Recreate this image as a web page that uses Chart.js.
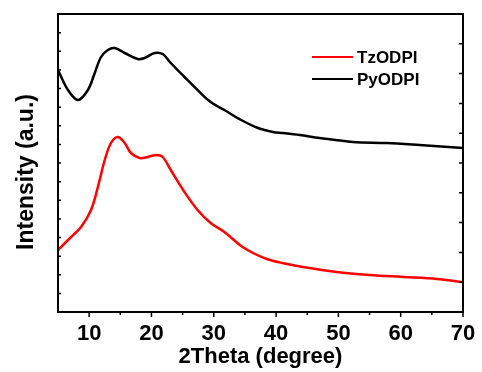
<!DOCTYPE html>
<html>
<head>
<meta charset="utf-8">
<script src="https://cdn.jsdelivr.net/npm/chart.js@4"></script>
<style>
  html, body { margin: 0; padding: 0; background: #fff; }
  #wrap { width: 482px; height: 372px; }
</style>
</head>
<body>
<div id="wrap"><canvas id="xrdChart" width="482" height="372"></canvas></div>
<script>
// 2Theta positions and intensities (a.u.)
const pyTheta = [5, 6.6, 8.2, 9.8, 10.9, 11.9, 13, 14.1, 15.7, 17.8, 18.9, 20.5, 21.8, 23.1, 25.3, 27.4, 29.5, 31.7, 34.4, 37.1, 39.5, 41.1, 43.8, 47, 52.3, 57.7, 63, 70];
const pyIntensity = [242, 222, 212, 222, 239, 255, 262, 264, 259, 253, 254, 259, 258, 249, 235, 222, 210, 202, 192, 184, 180, 179, 177, 174, 170, 169, 167, 164];

const tzTheta = [5, 7.1, 8.7, 10.3, 11.4, 12.5, 13.5, 14.6, 15.7, 16.7, 18.1, 19.4, 20.8, 21.8, 23.1, 25.3, 27.4, 29.5, 31.7, 34.4, 36.3, 38.5, 41, 44.3, 49.7, 55, 60.4, 65.8, 70];
const tzIntensity = [62, 75, 85, 102, 125, 152, 169, 175, 169, 159, 154, 155, 157, 155, 142, 120, 102, 89, 80, 66, 59, 53, 49, 45, 40, 37, 35, 33, 30];

const xTicks = [10, 20, 30, 40, 50, 60, 70];
const xMinorTicks = [15, 25, 35, 45, 55, 65];
const seriesNames = ['TzODPI', 'PyODPI'];
const seriesColors = ['#ff0000', '#000000'];
const yTitle = 'Intensity (a.u.)';

const FONT = '"Liberation Sans", Arial, sans-serif';
const toPoints = (xs, ys) => xs.map((x, i) => ({ x: x, y: ys[i] }));

// frame, inward ticks on the y sides, outward ticks under the x axis, legend, y title
const framePlugin = {
    id: 'frame',
    afterDraw(chart) {
        const { ctx, chartArea: a, scales } = chart;
        const x = scales.x, y = scales.y;
        ctx.save();
        ctx.strokeStyle = '#000';
        ctx.lineWidth = 2;
        ctx.strokeRect(a.left, a.top, a.right - a.left, a.bottom - a.top);

        ctx.lineWidth = 1.5;
        ctx.beginPath();
        xTicks.forEach(v => {
            const px = x.getPixelForValue(v);
            ctx.moveTo(px, a.bottom); ctx.lineTo(px, a.bottom + 5);
        });
        xMinorTicks.forEach(v => {
            const px = x.getPixelForValue(v);
            ctx.moveTo(px, a.bottom); ctx.lineTo(px, a.bottom + 3);
        });
        // left side: 16 small inward ticks, right side: 10 inward ticks
        for (let i = 1; i < 16; i++) {
            const py = y.getPixelForValue(y.max * i / 16);
            ctx.moveTo(a.left, py); ctx.lineTo(a.left + 3, py);
        }
        for (let i = 1; i < 10; i++) {
            const py = y.getPixelForValue(y.max * i / 10);
            ctx.moveTo(a.right, py); ctx.lineTo(a.right - 4, py);
        }
        ctx.stroke();

        // legend
        ctx.font = 'bold 17px ' + FONT;
        ctx.textBaseline = 'middle';
        ctx.textAlign = 'left';
        chart.data.datasets.forEach((ds, i) => {
            const ly = 57 + i * 22;
            ctx.strokeStyle = ds.borderColor;
            ctx.lineWidth = 2;
            ctx.beginPath();
            ctx.moveTo(312, ly); ctx.lineTo(353, ly);
            ctx.stroke();
            ctx.fillStyle = '#000';
            ctx.fillText(ds.label, 357, ly + 1);
        });

        // y axis title
        ctx.translate(27, 172);
        ctx.rotate(-Math.PI / 2);
        ctx.font = 'bold 23px ' + FONT;
        ctx.textAlign = 'center';
        ctx.fillText(yTitle, 0, 0);
        ctx.restore();
    }
};

const ctx = document.getElementById('xrdChart').getContext('2d');
new Chart(ctx, {
    type: 'line',
    data: {
        datasets: [{
            label: seriesNames[0],
            data: toPoints(tzTheta, tzIntensity),
            borderColor: seriesColors[0],
            borderWidth: 2.5,
            pointRadius: 0,
            tension: 0.35
        }, {
            label: seriesNames[1],
            data: toPoints(pyTheta, pyIntensity),
            borderColor: seriesColors[1],
            borderWidth: 2.5,
            pointRadius: 0,
            tension: 0.35
        }]
    },
    options: {
        responsive: false,
        animation: false,
        layout: { padding: { top: 14, right: 19, left: 0, bottom: 0 } },
        plugins: {
            legend: { display: false },
            tooltip: { enabled: false }
        },
        scales: {
            x: {
                type: 'linear',
                min: 5,
                max: 70,
                afterFit: s => { s.height = 60; },
                afterBuildTicks: s => { s.ticks = xTicks.map(v => ({ value: v })); },
                grid: { display: false },
                border: { display: false },
                ticks: {
                    padding: 1,
                    color: '#000',
                    maxRotation: 0,
                    font: { family: FONT, size: 22, weight: 'bold' }
                },
                title: {
                    display: true,
                    text: '2Theta (degree)',
                    color: '#000',
                    padding: { top: 0, bottom: 2 },
                    font: { family: FONT, size: 22, weight: 'bold' }
                }
            },
            y: {
                min: 0,
                max: 298,
                afterFit: s => { s.width = 58; },
                grid: { display: false },
                border: { display: false },
                ticks: { display: false }
            }
        }
    },
    plugins: [framePlugin]
});
</script>
</body>
</html>
